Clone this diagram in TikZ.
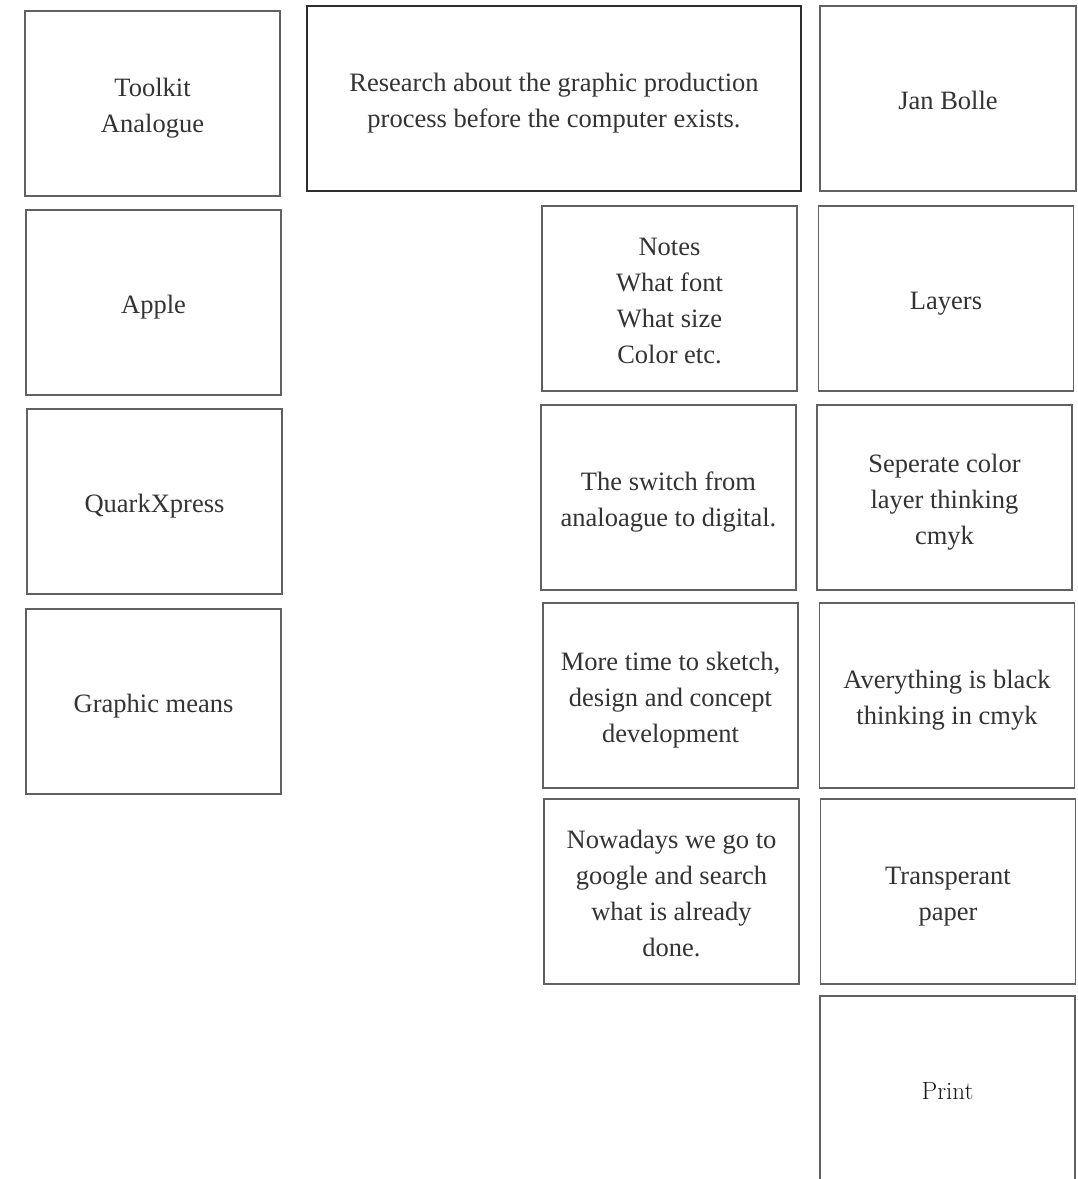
\documentclass[tikz,border=0pt]{standalone}
\usepackage{fontspec}
\newfontfamily\cardfont{Liberation Serif}
\newcommand\topstrutcard{\rule{0pt}{27pt}}
\newcommand\botstrutcard{\rule[-6pt]{0pt}{6pt}}
\begin{document}
\begin{tikzpicture}[x=1pt,y=1pt,
  card/.style={draw=black!62, line width=1.1pt, text=black!80, inner sep=0pt,
    minimum width=255pt, minimum height=185pt, align=center,
    font=\cardfont\fontsize{26.5}{36}\selectfont},
  mainbox/.style={card, draw=black!82, line width=2.4pt, minimum width=494pt}
]
\clip (0,0) rectangle (1078,-1179);
\fill[white] (0,0) rectangle (1078,-1179);

\node[card] (toolkit) at (152.5,-103.5) {\topstrutcard Toolkit\\Analogue\botstrutcard};
\node[mainbox] (research) at (554,-98.5) {\topstrutcard Research about the graphic production\\process before the computer exists.\botstrutcard};
\node[card, minimum width=256pt] (jan) at (948,-98.5) {\topstrutcard Jan Bolle\botstrutcard};

\node[card] (apple) at (153.5,-302.5) {\topstrutcard Apple\botstrutcard};
\node[card] (notes) at (669.5,-298.5) {\topstrutcard Notes\\What font\\What size\\Color etc.\botstrutcard};
\node[card] (layers) at (946,-298.5) {\topstrutcard Layers\botstrutcard};

\node[card] (quark) at (154.5,-501.5) {\topstrutcard QuarkXpress\botstrutcard};
\node[card] (switch) at (668.5,-497.5) {\topstrutcard The switch from\\analoague to digital.\botstrutcard};
\node[card] (separate) at (944.5,-497.5) {\topstrutcard Seperate color\\layer thinking\\cmyk\botstrutcard};

\node[card] (graphic) at (153.5,-701.5) {\topstrutcard Graphic means\botstrutcard};
\node[card] (moretime) at (670.5,-695.5) {\topstrutcard More time to sketch,\\design and concept\\development\botstrutcard};
\node[card] (everything) at (947,-695.5) {\topstrutcard Averything is black\\thinking in cmyk\botstrutcard};

\node[card] (nowadays) at (671.5,-891.5) {\topstrutcard Nowadays we go to\\google and search\\ what is already\\done.\botstrutcard};
\node[card] (transparent) at (948,-891.5) {\topstrutcard Transperant\\paper\botstrutcard};

\node[card, text=black!90, font=\rmfamily\fontsize{25}{30}\selectfont] (print) at (947.5,-1088.5) {\topstrutcard Print\botstrutcard};
\end{tikzpicture}
\end{document}
